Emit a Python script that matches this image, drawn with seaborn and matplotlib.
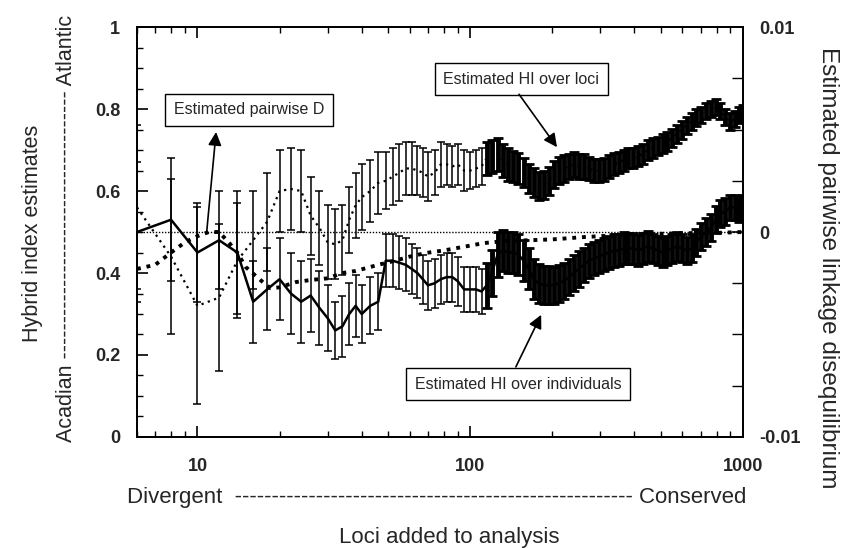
import numpy as np
import pandas as pd
import matplotlib
matplotlib.use('Agg')
import matplotlib.pyplot as plt
import seaborn as sns
from matplotlib.ticker import MultipleLocator, LogLocator, NullFormatter

# number of loci added (x) for the two hybrid index series
loci = [6, 8, 10, 12, 14, 16, 18, 20, 22, 24, 26, 28, 30, 32, 34, 36, 38, 40,
        43, 46, 49, 52, 55, 58, 61, 64, 67, 70, 74, 78, 82, 86, 90, 95, 100,
        105, 110, 115, 120, 126, 132, 138, 144, 150, 157, 164, 171, 178, 186, 194,
        202, 211, 220, 230, 240, 250, 261, 272, 284, 296,
        309, 322, 336, 350, 365, 380, 396, 413, 430, 448,
        467, 487, 507, 528, 550, 573, 597, 622, 648, 675,
        703, 732, 762, 793, 826, 860, 895, 932, 970, 1000]

# estimated HI over loci (upper, dotted)
hi_loci = [0.56, 0.44, 0.32, 0.34, 0.43, 0.48, 0.525, 0.60, 0.605, 0.60, 0.54, 0.51, 0.475, 0.47, 0.48, 0.53, 0.565, 0.585,
           0.60, 0.62, 0.625, 0.635, 0.645, 0.655, 0.655, 0.65, 0.645, 0.635, 0.645, 0.665, 0.665, 0.66, 0.665, 0.65, 0.65,
           0.655, 0.66, 0.68, 0.685, 0.69, 0.675, 0.665, 0.66, 0.655, 0.645, 0.63, 0.62, 0.612, 0.615, 0.625,
           0.64, 0.65, 0.655, 0.66, 0.665, 0.66, 0.66, 0.655, 0.65, 0.65,
           0.652, 0.66, 0.665, 0.67, 0.675, 0.68, 0.68, 0.685, 0.69, 0.70,
           0.705, 0.71, 0.715, 0.72, 0.73, 0.74, 0.75, 0.76, 0.77, 0.78,
           0.785, 0.795, 0.80, 0.805, 0.795, 0.78, 0.77, 0.775, 0.785, 0.79]
hi_loci_err = [0.2, 0.19, 0.24, 0.18, 0.14, 0.12, 0.12, 0.1, 0.1, 0.1, 0.095, 0.09, 0.09, 0.085, 0.085, 0.08, 0.08, 0.08,
               0.075, 0.075, 0.07, 0.07, 0.07, 0.065, 0.065, 0.06, 0.06, 0.06, 0.055, 0.055, 0.05, 0.05, 0.05, 0.05, 0.045,
               0.045, 0.045, 0.04, 0.04, 0.04, 0.04, 0.04, 0.038, 0.038, 0.036, 0.036, 0.035, 0.035, 0.034, 0.034,
               0.033, 0.032, 0.032, 0.031, 0.03, 0.03, 0.03, 0.029, 0.029, 0.028,
               0.028, 0.027, 0.027, 0.026, 0.026, 0.025, 0.025, 0.025, 0.024, 0.024,
               0.024, 0.023, 0.023, 0.023, 0.022, 0.022, 0.022, 0.021, 0.021, 0.021,
               0.02, 0.02, 0.02, 0.02, 0.02, 0.02, 0.02, 0.02, 0.02, 0.02]

# estimated HI over individuals (lower, solid)
hi_ind = [0.50, 0.53, 0.45, 0.48, 0.45, 0.33, 0.36, 0.385, 0.35, 0.33, 0.345, 0.315, 0.29, 0.26, 0.27, 0.30, 0.32, 0.30,
          0.32, 0.33, 0.43, 0.43, 0.425, 0.42, 0.41, 0.40, 0.385, 0.37, 0.375, 0.385, 0.39, 0.39, 0.38, 0.36, 0.36,
          0.36, 0.355, 0.37, 0.40, 0.445, 0.455, 0.45, 0.45, 0.445, 0.43, 0.41, 0.385, 0.375, 0.37, 0.37,
          0.37, 0.375, 0.38, 0.39, 0.40, 0.41, 0.42, 0.43, 0.435, 0.44,
          0.445, 0.45, 0.455, 0.455, 0.46, 0.46, 0.46, 0.455, 0.46, 0.465,
          0.46, 0.455, 0.45, 0.455, 0.46, 0.465, 0.46, 0.455, 0.46, 0.475,
          0.49, 0.50, 0.51, 0.53, 0.545, 0.55, 0.56, 0.56, 0.555, 0.56]
hi_ind_err = [0.17, 0.15, 0.12, 0.12, 0.15, 0.1, 0.1, 0.1, 0.1, 0.1, 0.09, 0.09, 0.08, 0.07, 0.075, 0.075, 0.075, 0.07,
              0.07, 0.07, 0.065, 0.065, 0.065, 0.065, 0.06, 0.06, 0.06, 0.06, 0.06, 0.06, 0.06, 0.06, 0.06, 0.055, 0.055,
              0.055, 0.055, 0.055, 0.055, 0.055, 0.05, 0.05, 0.05, 0.05, 0.05, 0.05, 0.048, 0.048, 0.046, 0.046,
              0.045, 0.045, 0.044, 0.044, 0.043, 0.043, 0.042, 0.042, 0.041, 0.041,
              0.04, 0.04, 0.04, 0.039, 0.039, 0.038, 0.038, 0.038, 0.037, 0.037,
              0.036, 0.036, 0.036, 0.035, 0.035, 0.035, 0.034, 0.034, 0.034, 0.033,
              0.033, 0.033, 0.033, 0.033, 0.033, 0.033, 0.03, 0.03, 0.03, 0.03]

# estimated pairwise D (right axis)
d_loci = [6, 7, 8, 9, 10, 11, 12, 13, 14, 15, 17, 18.5, 20, 23, 26, 30, 34, 38, 46, 53,
          60, 69, 80, 93, 112, 135, 164, 200, 265, 350, 450, 600, 800, 1000]
d_est = [-0.0018, -0.0016, -0.0010, -0.0005, -0.0002, 0.0, 0.0, -0.0005, -0.0010, -0.0017,
         -0.00234, -0.00274, -0.0027, -0.00244, -0.00234, -0.00226, -0.0020, -0.0019, -0.0016, -0.0014,
         -0.0012, -0.00102, -0.0009, -0.00074, -0.00054, -0.00044, -0.0004, -0.00036, -0.00024, -0.00016,
         -0.0001, -0.00006, -0.00004, 0.0]

df_hi = pd.DataFrame({'loci': loci, 'hi_loci': hi_loci, 'hi_loci_err': hi_loci_err,
                      'hi_ind': hi_ind, 'hi_ind_err': hi_ind_err})
df_d = pd.DataFrame({'loci': d_loci, 'd': d_est})

sns.set_style('ticks')
plt.rcParams['font.family'] = ['Liberation Sans', 'DejaVu Sans']

fig = plt.figure(figsize=(8.44, 5.48), dpi=100)
ax = fig.add_axes([0.1623, 0.2026, 0.718, 0.748])
ax2 = ax.twinx()

# D line + zero line on the right axis
sns.lineplot(data=df_d, x='loci', y='d', ax=ax2, color='black', lw=2.8,
             linestyle=(0, (1, 1.5)), sort=False)
ax2.axhline(0, color='black', lw=1, ls=(0, (1, 1.2)))
ax2.set_ylim(-0.01, 0.01)

# error bars: thin where sparse, heavy where the points pile up
sparse = df_hi[df_hi['loci'] < 115]
dense = df_hi[df_hi['loci'] >= 115]
for col in ['hi_loci', 'hi_ind']:
    ax.errorbar(sparse['loci'], sparse[col], yerr=sparse[col + '_err'], fmt='none',
                ecolor='black', elinewidth=1.1, capsize=3, capthick=1.1)
    ax.errorbar(dense['loci'], dense[col], yerr=dense[col + '_err'], fmt='none',
                ecolor='black', elinewidth=3.5, capsize=3.5, capthick=2)

sns.lineplot(data=df_hi, x='loci', y='hi_ind', ax=ax, color='black', lw=1.8, sort=False)
sns.lineplot(data=df_hi, x='loci', y='hi_loci', ax=ax, color='black', lw=1.6,
             linestyle=(0, (1, 2)), sort=False)

ax.set_xscale('log')
ax.set_xlim(6, 1000)
ax.set_ylim(0, 1)
ax.set_zorder(ax2.get_zorder() + 1)
ax.patch.set_visible(False)

ax.set_xlabel('')
ax.set_ylabel('')
ax2.set_ylabel('')

# ticks
ax.set_xticks([10, 100, 1000])
ax.set_xticklabels(['10', '100', '1000'], fontweight='bold', fontsize=13)
ax.xaxis.set_minor_locator(LogLocator(base=10, subs=range(2, 10)))
ax.xaxis.set_minor_formatter(NullFormatter())
ax.set_yticks([0, 0.2, 0.4, 0.6, 0.8, 1])
ax.set_yticklabels(['0', '0.2', '0.4', '0.6', '0.8', '1'], fontweight='bold', fontsize=13)
ax.yaxis.set_minor_locator(MultipleLocator(0.05))
ax.tick_params(which='both', direction='in', top=True, right=False, color='black')
ax.tick_params(which='major', length=8, width=1.2)
ax.tick_params(which='minor', length=4, width=1)
ax.tick_params(axis='x', pad=15)
ax.tick_params(axis='y', pad=12)

ax2.set_yticks([-0.01, 0, 0.01])
ax2.set_yticklabels(['-0.01', '0', '0.01'], fontweight='bold', fontsize=13)
ax2.yaxis.set_minor_locator(MultipleLocator(0.0025))
ax2.tick_params(which='both', direction='in', color='black', pad=12)
ax2.tick_params(which='major', length=8, width=1.2)
ax2.tick_params(which='minor', length=8, width=1)

for a in (ax, ax2):
    for s in a.spines.values():
        s.set_linewidth(1.3)
        s.set_color('black')

# annotation boxes and arrows
box = dict(boxstyle='square,pad=0.55', fc='white', ec='black', lw=1)
arrow = dict(arrowstyle='-|>', color='black', lw=1.2, mutation_scale=20, shrinkA=0, shrinkB=0)

ax.text(15.5, 0.798, 'Estimated pairwise D', ha='center', va='center', fontsize=11.5, bbox=box, zorder=5)
ax.annotate('', xy=(11.7, 0.744), xytext=(10.8, 0.498), arrowprops=arrow, zorder=5)

ax.text(154, 0.873, 'Estimated HI over loci', ha='center', va='center', fontsize=11.5, bbox=box, zorder=5)
ax.annotate('', xy=(208, 0.707), xytext=(151, 0.836), arrowprops=arrow, zorder=5)

ax.text(150, 0.129, 'Estimated HI over individuals', ha='center', va='center', fontsize=11.5, bbox=box, zorder=5)
ax.annotate('', xy=(182, 0.298), xytext=(147, 0.171), arrowprops=arrow, zorder=5)

# axis titles
fig.text(33 / 844, 1 - 233 / 548, 'Hybrid index estimates', rotation=90,
         ha='center', va='center', fontsize=15.5)
fig.text(67 / 844, 1 - 228 / 548, 'Acadian ' + '-' * 37 + ' Atlantic', rotation=90,
         ha='center', va='center', fontsize=15.5)
fig.text(828 / 844, 1 - 268 / 548, 'Estimated pairwise linkage disequilibrium', rotation=270,
         ha='center', va='center', fontsize=17.5)
fig.text(437 / 844, 1 - 497 / 548, 'Divergent  ' + '-' * 54 + ' Conserved',
         ha='center', va='center', fontsize=16)
fig.text(449 / 844, 1 - 538 / 548, 'Loci added to analysis',
         ha='center', va='center', fontsize=16)

fig.savefig('out.png', dpi=100)
